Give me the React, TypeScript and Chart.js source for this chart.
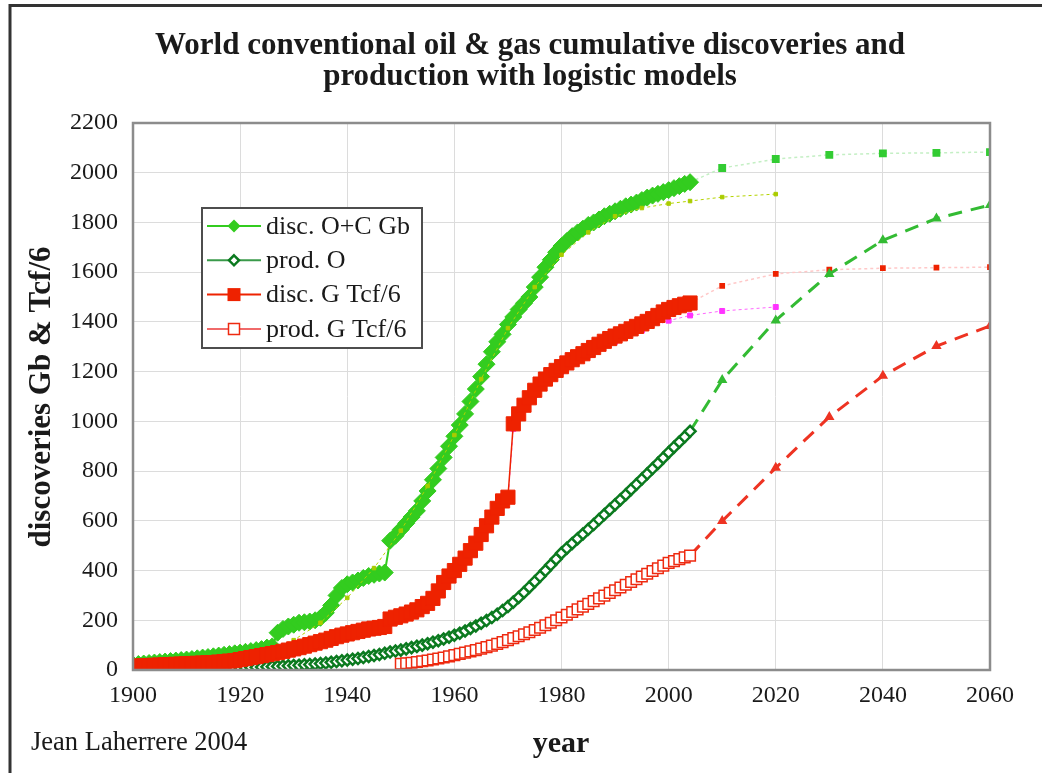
import React, { useEffect, useRef } from 'react';
import { Chart, registerables } from 'chart.js';

Chart.register(...registerables);

// ---------- text ----------
const TITLE_LINES = ['World conventional oil & gas cumulative discoveries and', 'production with logistic models'];
const Y_TITLE = 'discoveries Gb & Tcf/6';
const X_TITLE = 'year';
const CREDIT = 'Jean Laherrere 2004';
const LEGEND_LABELS = ['disc. O+C Gb', 'prod. O', 'disc. G Tcf/6', 'prod. G Tcf/6'];

// ---------- axes ----------
const X_MIN = 1900;
const X_MAX = 2060;
const X_STEP = 20;
const Y_MIN = 0;
const Y_MAX = 2200;
const Y_STEP = 200;

// ---------- historical data (yearly) ----------
const HIST_YEARS: number[] = Array.from({ length: 105 }, (_, i) => 1900 + i);

const DISC_OC: number[] = [
  22, 24, 26, 28, 30, 32, 34, 36, 38, 40,
  42, 44, 47, 50, 52, 55, 58, 61, 64, 67,
  70, 73, 76, 80, 84, 90, 95, 150, 165, 175,
  182, 190, 192, 195, 200, 210, 230, 260, 300, 330,
  345, 352, 360, 370, 378, 383, 388, 392, 520, 540,
  565, 590, 615, 640, 680, 720, 765, 810, 855, 900,
  940, 985, 1030, 1080, 1130, 1180, 1230, 1280, 1320, 1350,
  1390, 1420, 1450, 1475, 1500, 1540, 1580, 1620, 1650, 1680,
  1705, 1725, 1745, 1760, 1775, 1790, 1800, 1812, 1825, 1835,
  1845, 1855, 1865, 1872, 1880, 1890, 1900, 1908, 1915, 1922,
  1930, 1938, 1946, 1955, 1962,
];

const PROD_O: number[] = [
  1, 1, 1, 2, 2, 2, 2, 3, 3, 3,
  4, 4, 4, 5, 5, 5, 6, 6, 7, 8,
  9, 9, 10, 11, 12, 13, 14, 15, 16, 17,
  18, 19, 21, 22, 24, 26, 28, 31, 34, 37,
  40, 43, 46, 50, 54, 58, 62, 67, 72, 76,
  80, 85, 90, 95, 100, 106, 112, 118, 125, 132,
  140, 148, 157, 167, 177, 188, 199, 211, 224, 239,
  255, 273, 292, 312, 333, 355, 377, 400, 423, 446,
  470, 490, 509, 528, 547, 566, 585, 605, 625, 645,
  665, 685, 705, 726, 747, 768, 789, 810, 831, 853,
  875, 896, 917, 938, 960,
];

const DISC_G: number[] = [
  15, 16, 17, 18, 19, 20, 21, 22, 23, 24,
  25, 26, 27, 28, 29, 30, 32, 34, 36, 38,
  42, 46, 50, 54, 58, 62, 66, 70, 75, 80,
  85, 90, 96, 102, 108, 114, 120, 127, 134, 140,
  145, 150, 155, 160, 165, 168, 171, 175, 205, 212,
  218, 225, 233, 242, 255, 268, 288, 318, 352, 378,
  400, 425, 450, 480, 510, 545, 580, 615, 650, 680,
  695, 990, 1030, 1065, 1095, 1125, 1150, 1170, 1188, 1205,
  1220, 1235, 1248, 1260, 1272, 1285, 1297, 1310, 1322, 1333,
  1343, 1352, 1362, 1372, 1382, 1392, 1402, 1413, 1426, 1440,
  1450, 1458, 1465, 1471, 1476,
];

const PROD_G_YEARS: number[] = Array.from({ length: 55 }, (_, i) => 1950 + i);
const PROD_G: number[] = [
  25, 27, 29, 32, 35, 38, 42, 46, 50, 55,
  60, 65, 70, 75, 80, 86, 92, 98, 105, 112,
  120, 128, 136, 144, 152, 161, 170, 180, 190, 200,
  211, 222, 233, 244, 255, 266, 277, 288, 299, 310,
  321, 332, 343, 354, 365, 376, 387, 398, 409, 420,
  431, 438, 446, 453, 460,
];

// ---------- logistic models ----------
const DISC_OC_MODEL_YEARS = [1900, 1905, 1910, 1915, 1920, 1925, 1930, 1935, 1940, 1945, 1950, 1955, 1960, 1965, 1970, 1975, 1980, 1985, 1990, 1995, 2000, 2004, 2010, 2020];
const DISC_OC_MODEL = [18, 24, 32, 44, 58, 80, 120, 190, 290, 410, 560, 740, 945, 1170, 1375, 1540, 1670, 1760, 1825, 1858, 1876, 1886, 1902, 1914];

const DISC_G_MODEL_YEARS = [1900, 1905, 1910, 1915, 1920, 1925, 1930, 1935, 1940, 1945, 1950, 1955, 1960, 1965, 1970, 1971, 1975, 1980, 1985, 1990, 1995, 2000, 2004, 2010, 2020];
const DISC_G_MODEL = [12, 16, 21, 27, 38, 55, 78, 105, 135, 158, 208, 255, 380, 530, 680, 970, 1105, 1200, 1265, 1320, 1365, 1405, 1426, 1444, 1460];

// ---------- projections ----------
const PROJ_YEARS = [2004, 2010, 2020, 2030, 2040, 2050, 2060];
const DISC_OC_PROJ = [1962, 2019, 2055, 2072, 2078, 2080, 2083];
const DISC_G_PROJ = [1476, 1545, 1593, 1610, 1616, 1618, 1620];
const PROD_O_PROJ = [960, 1166, 1406, 1593, 1728, 1816, 1870];
const PROD_G_PROJ = [460, 599, 813, 1018, 1183, 1303, 1384];

const SERIF = '"Liberation Serif", "Times New Roman", serif';
const TEXT = '#1a1a1a';

const pts = (xs: number[], ys: number[]) => xs.map((x, i) => ({ x, y: ys[i] }));
const skipFirst = (r: number) => (c: any) => (c.dataIndex === 0 ? 0 : r);

function drawMarker(ctx: CanvasRenderingContext2D, kind: string, x: number, y: number, s: number, fill: string, stroke: string, lw: number) {
  ctx.save();
  ctx.beginPath();
  if (kind === 'diamond') {
    ctx.moveTo(x, y - s);
    ctx.lineTo(x + s, y);
    ctx.lineTo(x, y + s);
    ctx.lineTo(x - s, y);
    ctx.closePath();
  } else {
    ctx.rect(x - s, y - s, 2 * s, 2 * s);
  }
  ctx.fillStyle = fill;
  ctx.fill();
  if (lw > 0) {
    ctx.lineWidth = lw;
    ctx.strokeStyle = stroke;
    ctx.stroke();
  }
  ctx.restore();
}

const decor = {
  id: 'decor',
  beforeDraw(chart: any) {
    const ctx: CanvasRenderingContext2D = chart.ctx;
    ctx.save();
    ctx.fillStyle = '#ffffff';
    ctx.fillRect(0, 0, chart.width, chart.height);
    ctx.restore();
  },
  afterDraw(chart: any) {
    const ctx: CanvasRenderingContext2D = chart.ctx;
    const a = chart.chartArea;
    ctx.save();
    // plot frame
    ctx.strokeStyle = '#8c8c8c';
    ctx.lineWidth = 2.5;
    ctx.strokeRect(a.left, a.top, a.right - a.left, a.bottom - a.top);
    // outer frame
    ctx.strokeStyle = '#333333';
    ctx.lineWidth = 3;
    ctx.beginPath();
    ctx.moveTo(10, chart.height + 5);
    ctx.lineTo(10, 5.5);
    ctx.lineTo(chart.width + 5, 5.5);
    ctx.stroke();

    ctx.fillStyle = TEXT;
    ctx.textAlign = 'center';
    ctx.textBaseline = 'middle';
    ctx.font = `bold 31px ${SERIF}`;
    ctx.fillText(TITLE_LINES[0], 530, 46);
    ctx.fillText(TITLE_LINES[1], 530, 77);

    ctx.font = `bold 30px ${SERIF}`;
    ctx.fillText(X_TITLE, 561, 744);

    ctx.save();
    ctx.translate(42, 397);
    ctx.rotate(-Math.PI / 2);
    ctx.font = `bold 31px ${SERIF}`;
    ctx.fillText(Y_TITLE, 0, 0);
    ctx.restore();

    ctx.textAlign = 'left';
    ctx.font = `26.5px ${SERIF}`;
    ctx.fillText(CREDIT, 31, 743);

    // legend
    const lx = 202, ly = 208, lw = 220, lh = 140;
    ctx.fillStyle = '#ffffff';
    ctx.fillRect(lx, ly, lw, lh);
    ctx.strokeStyle = '#4d4d4d';
    ctx.lineWidth = 2;
    ctx.strokeRect(lx, ly, lw, lh);
    const rows = [
      { line: '#33cc1f', kind: 'diamond', s: 6.5, fill: '#33cc1f', stroke: '#33cc1f', w: 0 },
      { line: '#3a9a4a', kind: 'diamond', s: 5, fill: '#ffffff', stroke: '#0b7a1f', w: 2.5 },
      { line: '#ee2200', kind: 'square', s: 6.5, fill: '#ee2200', stroke: '#ee2200', w: 0 },
      { line: '#f06a6a', kind: 'square', s: 5.5, fill: '#ffffff', stroke: '#ee2a10', w: 1.5 },
    ];
    rows.forEach((r, i) => {
      const y = 226 + i * 34.3;
      ctx.strokeStyle = r.line;
      ctx.lineWidth = 2;
      ctx.beginPath();
      ctx.moveTo(207, y);
      ctx.lineTo(261, y);
      ctx.stroke();
      drawMarker(ctx, r.kind, 234, y, r.s, r.fill, r.stroke, r.w);
      ctx.fillStyle = TEXT;
      ctx.font = `26px ${SERIF}`;
      ctx.textAlign = 'left';
      ctx.textBaseline = 'middle';
      ctx.fillText(LEGEND_LABELS[i], 266, y + 1);
    });
    ctx.restore();
  },
};

export default function App() {
  const ref = useRef<HTMLCanvasElement | null>(null);

  useEffect(() => {
    if (!ref.current) return;
    const tickFont = { family: SERIF, size: 24 };
    const chart = new Chart(ref.current, {
      type: 'line',
      data: {
        datasets: [
          {
            label: 'disc. O+C proj',
            data: pts(PROJ_YEARS, DISC_OC_PROJ),
            borderColor: '#c4efc4',
            borderWidth: 1.5,
            borderDash: [3, 3],
            pointStyle: 'rect',
            pointRadius: skipFirst(4.5),
            pointBackgroundColor: '#33cc33',
            pointBorderColor: '#33cc33',
            order: 9,
          },
          {
            label: 'disc. G proj',
            data: pts(PROJ_YEARS, DISC_G_PROJ),
            borderColor: '#ffc8c8',
            borderWidth: 1.5,
            borderDash: [3, 3],
            pointStyle: 'rect',
            pointRadius: skipFirst(3),
            pointBackgroundColor: '#ee2200',
            pointBorderColor: '#ee2200',
            order: 9,
          },
          {
            label: 'prod. O proj',
            data: pts(PROJ_YEARS, PROD_O_PROJ),
            borderColor: '#33bb33',
            borderWidth: 3,
            borderDash: [14, 9],
            pointStyle: 'triangle',
            pointRadius: skipFirst(3),
            pointBackgroundColor: '#33bb33',
            pointBorderColor: '#33bb33',
            order: 8,
          },
          {
            label: 'prod. G proj',
            data: pts(PROJ_YEARS, PROD_G_PROJ),
            borderColor: '#ee3322',
            borderWidth: 3,
            borderDash: [14, 9],
            pointStyle: 'triangle',
            pointRadius: skipFirst(3),
            pointBackgroundColor: '#ee3322',
            pointBorderColor: '#ee3322',
            order: 8,
          },
          {
            label: LEGEND_LABELS[0],
            data: pts(HIST_YEARS, DISC_OC),
            borderColor: '#33cc1f',
            borderWidth: 2,
            pointStyle: 'rectRot',
            pointRadius: 8.5,
            pointBackgroundColor: '#33cc1f',
            pointBorderColor: '#33cc1f',
            pointBorderWidth: 1,
            order: 7,
          },
          {
            label: 'disc. O+C model',
            data: pts(DISC_OC_MODEL_YEARS, DISC_OC_MODEL),
            borderColor: '#b5d400',
            borderWidth: 1,
            borderDash: [3, 3],
            pointStyle: 'rect',
            pointRadius: 2.5,
            pointBackgroundColor: '#aacc00',
            pointBorderColor: '#aacc00',
            order: 6,
          },
          {
            label: LEGEND_LABELS[1],
            data: pts(HIST_YEARS, PROD_O),
            borderColor: '#3a9a4a',
            borderWidth: 2,
            pointStyle: 'rectRot',
            pointRadius: 5.5,
            pointBackgroundColor: '#ffffff',
            pointBorderColor: '#0b7a1f',
            pointBorderWidth: 2.5,
            order: 5,
          },
          {
            label: LEGEND_LABELS[2],
            data: pts(HIST_YEARS, DISC_G),
            borderColor: '#ee2200',
            borderWidth: 1.5,
            pointStyle: 'rect',
            pointRadius: 10,
            pointBackgroundColor: '#ee2200',
            pointBorderColor: '#ee2200',
            pointBorderWidth: 1,
            order: 4,
          },
          {
            label: 'disc. G model',
            data: pts(DISC_G_MODEL_YEARS, DISC_G_MODEL),
            borderColor: '#ff66ff',
            borderWidth: 1,
            borderDash: [3, 3],
            pointStyle: 'rect',
            pointRadius: 3.5,
            pointBackgroundColor: '#ff33ff',
            pointBorderColor: '#ff33ff',
            order: 5,
          },
          {
            label: LEGEND_LABELS[3],
            data: pts(PROD_G_YEARS, PROD_G),
            borderColor: '#f06a6a',
            borderWidth: 1.5,
            pointStyle: 'rect',
            pointRadius: 7.5,
            pointBackgroundColor: '#ffffff',
            pointBorderColor: '#ee2a10',
            pointBorderWidth: 1.5,
            order: 1,
          },
        ],
      },
      options: {
        responsive: true,
        maintainAspectRatio: false,
        animation: false,
        layout: { padding: { top: 123, right: 52, bottom: 0, left: 0 } },
        plugins: {
          legend: { display: false },
          tooltip: { enabled: false },
          title: { display: false },
        },
        elements: { line: { tension: 0 } },
        scales: {
          x: {
            type: 'linear',
            min: X_MIN,
            max: X_MAX,
            afterFit: (s: any) => {
              s.height = 103;
            },
            ticks: {
              stepSize: X_STEP,
              padding: 11,
              font: tickFont,
              color: TEXT,
              maxRotation: 0,
              autoSkip: false,
              callback: (v: any) => String(v),
            },
            grid: { color: '#dcdcdc', lineWidth: 1, drawTicks: false },
            border: { display: false },
          },
          y: {
            type: 'linear',
            min: Y_MIN,
            max: Y_MAX,
            afterFit: (s: any) => {
              s.width = 133;
            },
            ticks: {
              stepSize: Y_STEP,
              padding: 15,
              font: tickFont,
              color: TEXT,
              callback: (v: any) => String(v),
            },
            grid: { color: '#dcdcdc', lineWidth: 1, drawTicks: false },
            border: { display: false },
          },
        },
      } as any,
      plugins: [decor],
    });
    return () => chart.destroy();
  }, []);

  return (
    <div style={{ position: 'fixed', left: 0, top: 0, width: 1042, height: 773, background: '#fff' }}>
      <canvas ref={ref} />
    </div>
  );
}
